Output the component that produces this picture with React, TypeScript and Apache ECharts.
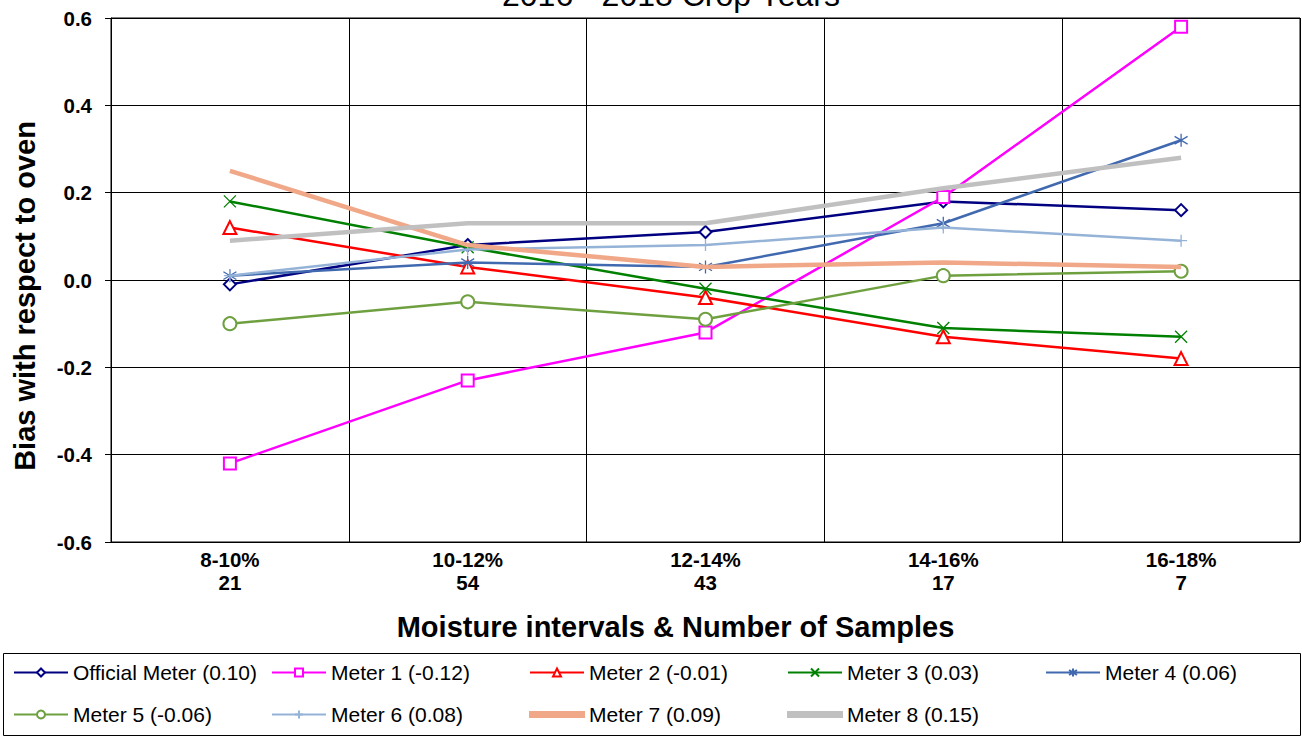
import React, { useEffect, useRef } from "react";
import * as echarts from "echarts";

const categories = ["8-10%\n21", "10-12%\n54", "12-14%\n43", "14-16%\n17", "16-18%\n7"];
const officialMeter = [-0.01, 0.08, 0.11, 0.18, 0.16];
const meter1 = [-0.42, -0.23, -0.12, 0.19, 0.58];
const meter2 = [0.12, 0.03, -0.04, -0.13, -0.18];
const meter3 = [0.18, 0.075, -0.02, -0.11, -0.13];
const meter4 = [0.01, 0.04, 0.03, 0.13, 0.32];
const meter5 = [-0.1, -0.05, -0.09, 0.01, 0.02];
const meter6 = [0.01, 0.07, 0.08, 0.12, 0.09];
const meter7 = [0.25, 0.08, 0.03, 0.04, 0.03];
const meter8 = [0.09, 0.13, 0.13, 0.21, 0.28];
const seriesNames = [
  "Official Meter (0.10)",
  "Meter 1 (-0.12)",
  "Meter 2 (-0.01)",
  "Meter 3 (0.03)",
  "Meter 4 (0.06)",
  "Meter 5 (-0.06)",
  "Meter 6 (0.08)",
  "Meter 7 (0.09)",
  "Meter 8 (0.15)",
];

const FONT = 'Arial, "Liberation Sans", sans-serif';

export default function App() {
  const ref = useRef<HTMLDivElement>(null);
  useEffect(() => {
    if (!ref.current) return;
    const chart = echarts.init(ref.current, null, { renderer: "svg" });
    const X_SYM = "path://M0,0L10,10M10,0L0,10";
    const STAR_SYM = "path://M5,0L5,10M0,2L10,8M0,8L10,2";
    const PLUS_SYM = "path://M5,0L5,10M0,5L10,5";
    const defs: any[] = [
      { data: officialMeter, color: "#000080", symbol: "emptyDiamond", size: 12, width: 2.5 },
      { data: meter1, color: "#FF00FF", symbol: "emptyRect", size: 12, width: 2.5 },
      { data: meter2, color: "#FF0000", symbol: "emptyTriangle", size: 13, width: 2.5 },
      { data: meter3, color: "#008000", symbol: X_SYM, size: 12, width: 2.5, stroke: true },
      { data: meter4, color: "#4169B0", symbol: STAR_SYM, size: 13, width: 2.5, stroke: true },
      { data: meter5, color: "#6FA040", symbol: "emptyCircle", size: 13, width: 2.5 },
      { data: meter6, color: "#95B3D7", symbol: PLUS_SYM, size: 12, width: 2.5, stroke: true },
      { data: meter7, color: "#F0A888", symbol: "none", size: 0, width: 4.5 },
      { data: meter8, color: "#C0C0C0", symbol: "none", size: 0, width: 4.5 },
    ];
    const series = defs.map((d, i) => ({
      name: seriesNames[i],
      type: "line",
      data: d.data,
      symbol: d.symbol,
      symbolSize: d.size,
      showSymbol: d.symbol !== "none",
      lineStyle: { color: d.color, width: d.width },
      itemStyle: d.stroke
        ? { color: "rgba(0,0,0,0)", borderColor: d.color, borderWidth: 1.3 }
        : { color: d.color, borderColor: d.color, borderWidth: 1.3 },
      z: 2 + i,
    }));
    const colX = [13, 271, 529, 787, 1045];
    const legends = seriesNames.map((n, i) => {
      const plain = defs[i].symbol === "none";
      return {
        data: [n],
        left: colX[i % 5],
        top: i < 5 ? 662 : 704,
        orient: "horizontal",
        itemWidth: 54,
        itemHeight: plain ? 5 : 10,
        icon: plain ? "rect" : undefined,
        itemGap: 5,
        padding: 0,
        selectedMode: false,
        textStyle: { fontFamily: FONT, fontSize: 21, color: "#000" },
      };
    });
    chart.setOption({
      animation: false,
      backgroundColor: "#fff",
      title: {
        text: "2016 - 2018 Crop Years",
        left: 666,
        top: -26,
        textAlign: "center",
        textStyle: { fontFamily: FONT, fontSize: 32, fontWeight: "normal", color: "#000" },
      },
      grid: {
        left: 111,
        right: 2,
        top: 18,
        bottom: 198,
        show: true,
        borderColor: "#000",
        borderWidth: 1,
      },
      legend: legends,
      xAxis: {
        type: "category",
        data: categories,
        boundaryGap: true,
        name: "Moisture intervals & Number of Samples",
        nameLocation: "middle",
        nameGap: 70,
        nameTextStyle: {
          fontFamily: FONT,
          fontSize: 29,
          fontWeight: "bold",
          color: "#000",
          padding: [0, 60, 0, 0],
        },
        axisLine: { show: true, lineStyle: { color: "#000", width: 1 } },
        axisTick: { show: false },
        splitLine: { show: true, lineStyle: { color: "#000", width: 1 } },
        axisLabel: {
          fontFamily: FONT,
          fontSize: 20.5,
          fontWeight: "bold",
          color: "#000",
          lineHeight: 23,
          margin: 6,
          interval: 0,
        },
      },
      yAxis: {
        type: "value",
        min: -0.6,
        max: 0.6,
        interval: 0.2,
        name: "Bias with respect to oven",
        nameLocation: "middle",
        nameGap: 72,
        nameRotate: 90,
        nameTextStyle: {
          fontFamily: FONT,
          fontSize: 29,
          fontWeight: "bold",
          color: "#000",
          padding: [0, 32, 0, 0],
        },
        axisLine: { show: true, lineStyle: { color: "#000", width: 1 } },
        axisTick: { show: true, length: 6, inside: false, lineStyle: { color: "#000" } },
        splitLine: { show: true, lineStyle: { color: "#000", width: 1 } },
        axisLabel: {
          fontFamily: FONT,
          fontSize: 20.5,
          fontWeight: "bold",
          color: "#000",
          margin: 19,
          formatter: (v: number) => v.toFixed(1),
        },
      },
      graphic: [
        {
          type: "rect",
          shape: { x: 3.5, y: 653.5, width: 1297, height: 82 },
          style: { fill: "none", stroke: "#000", lineWidth: 1 },
          z: -1,
        },
      ],
      series,
    });
    return () => chart.dispose();
  }, []);
  return <div ref={ref} style={{ width: 1302, height: 740, position: "absolute", left: 0, top: 0 }} />;
}
